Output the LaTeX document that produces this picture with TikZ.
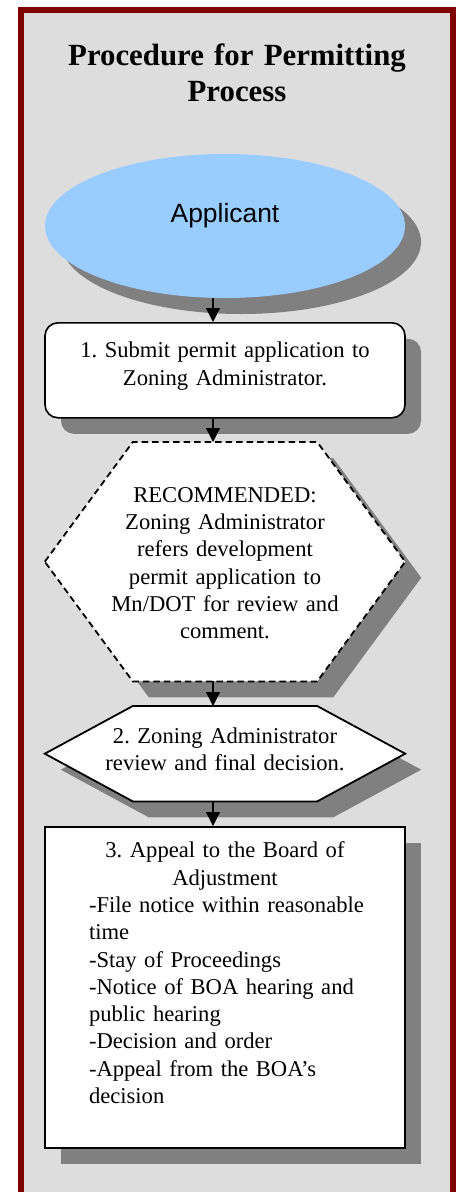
\documentclass[tikz,border=0pt]{standalone}
\usepackage{fontspec}
\setmainfont{Liberation Serif}
\newfontfamily\arialfont{Liberation Sans}
\usetikzlibrary{shapes.geometric,shadows,arrows.meta}
\definecolor{framered}{HTML}{800000}
\definecolor{panelgray}{HTML}{DDDDDD}
\definecolor{shadowgray}{HTML}{808080}
\definecolor{appblue}{HTML}{99CCFF}
\pgfdeclarelayer{panel}
\pgfdeclarelayer{hex}
\pgfsetlayers{panel,hex,main}
\tikzset{
  dropgray/.style={drop shadow={shadow xshift=16pt,shadow yshift=-16pt,opacity=1,fill=shadowgray}},
  stepbox/.style={anchor=north,minimum width=360pt,inner xsep=25pt,inner ysep=0pt,
    text width=310pt,align=center,font=\fontsize{22.6}{27.3}\selectfont},
  roundbox/.style={stepbox,draw,line width=1.6pt,fill=white,rounded corners=13pt,dropgray},
  squarebox/.style={stepbox,draw,line width=1.6pt,fill=white,dropgray},
  hexline/.style={draw,line width=1.8pt,fill=white,dropgray},
  flow/.style={line width=1.3pt,-{Triangle[length=14pt,width=14pt]}}
}

\begin{document}
\frenchspacing
\begin{tikzpicture}[x=1pt,y=-1pt]
    \useasboundingbox (0,0) rectangle (458,1192);
    %
    % -- Frame round the whole procedure
    \begin{pgfonlayer}{panel}
      \draw[line width=6pt,draw=framered,fill=panelgray] (21,10) rectangle (453,1220);
    \end{pgfonlayer}
    \node[font=\fontsize{30.8}{36}\selectfont\bfseries,align=center,text width=420pt,anchor=base]
      (title) at (237,65.7) {Procedure for Permitting\\Process};

    % -- Applicant at the top
    \node[ellipse,fill=appblue,minimum width=360pt,minimum height=144pt,inner sep=0pt,dropgray,
      text height=19pt,text depth=27pt,font=\arialfont\fontsize{26.4}{30}\selectfont]
      (app) at (225,226) {Applicant};

    % -- Steps of the procedure
    \node[roundbox,text height=35pt,text depth=60pt] (sub) at (225,322)
      {1. Submit permit application to\\Zoning Administrator.};
    \node[stepbox,text height=60pt,text depth=179pt] (refer) at (225,442)
      {RECOMMENDED:\\Zoning Administrator\\refers development\\permit application to\\Mn/DOT for review and\\comment.};
    \node[stepbox,text height=37pt,text depth=58pt] (decide) at (225,706)
      {2. Zoning Administrator\\review and final decision.};
    \node[squarebox,align=left,text width=286pt,inner xsep=37pt,text height=31pt,text depth=290pt]
      (appeal) at (225,826)
      {\centering 3. Appeal to the Board of\\Adjustment\par
       \raggedright\leftskip=7pt -File notice within reasonable\\time\\-Stay of Proceedings\\-Notice of BOA hearing and\\public hearing\\-Decision and order\\-Appeal from the BOA’s\\decision\par};

    % -- Hexagons behind the text of refer and decide
    \begin{pgfonlayer}{hex}
      \path[hexline,dash pattern=on 6.5pt off 4pt] (refer.west) -- ([xshift=88pt]refer.north west)
        -- ([xshift=-88pt]refer.north east) -- (refer.east) -- ([xshift=-88pt]refer.south east)
        -- ([xshift=88pt]refer.south west) -- cycle;
      \path[hexline] (decide.west) -- ([xshift=88pt]decide.north west)
        -- ([xshift=-88pt]decide.north east) -- (decide.east) -- ([xshift=-88pt]decide.south east)
        -- ([xshift=88pt]decide.south west) -- cycle;
    \end{pgfonlayer}

    % -- Arrows down the chain
    \draw[flow] ([xshift=-12pt]app.south) -- ([xshift=-12pt]sub.north);
    \draw[flow] ([xshift=-12pt]sub.south) -- ([xshift=-12pt]refer.north);
    \draw[flow] ([xshift=-12pt]refer.south) -- ([xshift=-12pt]decide.north);
    \draw[flow] ([xshift=-12pt]decide.south) -- ([xshift=-12pt]appeal.north);
\end{tikzpicture}
\end{document}
